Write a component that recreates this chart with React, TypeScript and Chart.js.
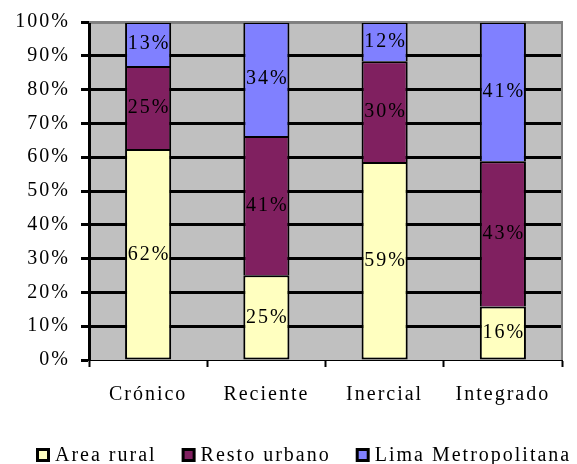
import React, { useEffect, useRef } from "react";
import { Chart, registerables } from "chart.js";

Chart.register(...registerables);

const categories = ["Crónico", "Reciente", "Inercial", "Integrado"];
const seriesNames = ["Area rural", "Resto urbano", "Lima Metropolitana"];
const areaRural = [62.4, 25.1, 58.6, 15.8];
const restoUrbano = [24.6, 41.2, 29.8, 43.0];
const limaMetropolitana = [13.0, 33.7, 11.6, 41.2];
const seriesColors = ["#FFFFC0", "#802060", "#8080FF"];
const yTicks = [0, 10, 20, 30, 40, 50, 60, 70, 80, 90, 100];

const FONT = "'Liberation Serif', 'Times New Roman', serif";
const SPACING = "2px";

const spacingPlugin = {
  id: "spacing",
  beforeUpdate(chart: any) {
    (chart.ctx as any).letterSpacing = SPACING;
  },
  beforeDraw(chart: any) {
    (chart.ctx as any).letterSpacing = SPACING;
    const { ctx, chartArea } = chart;
    ctx.save();
    ctx.fillStyle = "#C0C0C0";
    ctx.fillRect(chartArea.left, chartArea.top, chartArea.right - chartArea.left, chartArea.bottom - chartArea.top);
    ctx.restore();
  },
  afterDatasetsDraw(chart: any) {
    const { ctx, chartArea } = chart;
    ctx.save();
    ctx.letterSpacing = SPACING;
    ctx.font = `20px ${FONT}`;
    ctx.fillStyle = "#000";
    ctx.textAlign = "center";
    ctx.textBaseline = "middle";
    chart.data.datasets.forEach((ds: any, i: number) => {
      const meta = chart.getDatasetMeta(i);
      meta.data.forEach((el: any, j: number) => {
        const v = ds.data[j];
        const cy = (el.y + el.base) / 2;
        ctx.fillText(Math.round(v) + "%", el.x + 1, cy);
      });
    });
    ctx.strokeStyle = "#808080";
    ctx.lineWidth = 2;
    ctx.beginPath();
    ctx.moveTo(chartArea.left, chartArea.top);
    ctx.lineTo(chartArea.right, chartArea.top);
    ctx.lineTo(chartArea.right, chartArea.bottom);
    ctx.stroke();
    ctx.restore();
  },
  afterDraw(chart: any) {
    const { ctx } = chart;
    ctx.save();
    ctx.letterSpacing = SPACING;
    ctx.font = `20px ${FONT}`;
    ctx.textBaseline = "middle";
    ctx.textAlign = "left";
    let x = 28;
    const cy = 447;
    seriesNames.forEach((name, i) => {
      ctx.fillStyle = "#000";
      ctx.fillRect(x, cy - 7, 14, 14);
      ctx.fillStyle = seriesColors[i];
      ctx.fillRect(x + 3, cy - 4, 8, 8);
      ctx.fillStyle = "#000";
      const tx = x + 19;
      ctx.fillText(name, tx, cy + 1);
      x = tx + ctx.measureText(name).width + 25;
    });
    ctx.restore();
  },
};

export default function App() {
  const ref = useRef<HTMLCanvasElement | null>(null);
  useEffect(() => {
    document.documentElement.style.overflow = "hidden";
    document.body.style.overflow = "hidden";
    document.body.style.margin = "0";
    if (!ref.current) return;
    const values = [areaRural, restoUrbano, limaMetropolitana];
    const chart = new Chart(ref.current, {
      type: "bar",
      data: {
        labels: categories,
        datasets: seriesNames.map((name, i) => ({
          label: name,
          data: values[i],
          backgroundColor: seriesColors[i],
          borderColor: "#000",
          borderWidth: i === 0 ? 2 : { top: 2, left: 2, right: 2, bottom: 0 },
          borderSkipped: false,
          barPercentage: 0.39,
          categoryPercentage: 1,
        })),
      },
      options: {
        responsive: false,
        animation: false,
        layout: { padding: { left: 0, top: 14, right: 7, bottom: 54 } },
        plugins: {
          legend: { display: false },
          tooltip: { enabled: false },
        },
        scales: {
          x: {
            stacked: true,
            afterFit: (s: any) => {
              s.height = 50;
              s.paddingLeft = 0;
              s.paddingRight = 0;
            },
            border: { color: "#000", width: 1 },
            grid: {
              display: true,
              drawOnChartArea: false,
              drawTicks: true,
              tickLength: 7,
              tickColor: "#000",
              tickWidth: 2,
            },
            ticks: {
              color: "#000",
              padding: 16,
              font: { family: FONT, size: 20 },
            },
          },
          y: {
            stacked: true,
            min: 0,
            max: 100,
            afterFit: (s: any) => {
              s.width = 81;
              s.paddingTop = 0;
              s.paddingBottom = 0;
            },
            afterBuildTicks: (s: any) => {
              s.ticks = yTicks.map((v) => ({ value: v }));
            },
            border: { color: "#000", width: 3 },
            grid: {
              color: (c: any) => (c.tick && c.tick.value === 100 ? "#808080" : "#000"),
              lineWidth: (c: any) => (c.tick && c.tick.value === 0 ? 1 : 3),
              drawTicks: true,
              tickLength: 8,
              tickColor: "#000",
              tickWidth: 3,
            },
            ticks: {
              color: "#000",
              padding: 11,
              font: { family: FONT, size: 20 },
              callback: (v: any) => v + "%",
            },
          },
        },
      },
      plugins: [spacingPlugin],
    });
    return () => chart.destroy();
  }, []);
  return (
    <div style={{ width: 561, height: 456, padding: 8 }}>
      <canvas ref={ref} width={561} height={456} style={{ display: "block" }} />
    </div>
  );
}
